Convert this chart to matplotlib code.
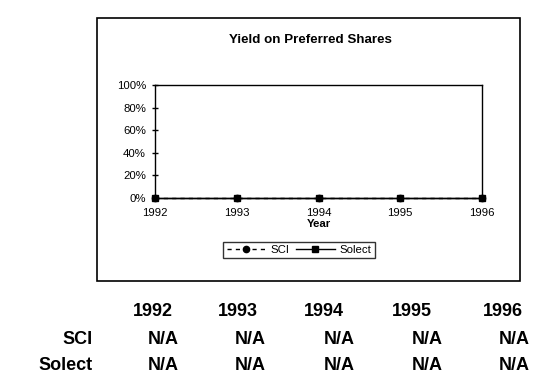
import matplotlib
matplotlib.use("Agg")
import matplotlib.pyplot as plt
from matplotlib.patches import Rectangle
from matplotlib.ticker import PercentFormatter

plt.rcParams['font.family'] = ['Liberation Sans', 'DejaVu Sans']

years = [1992, 1993, 1994, 1995, 1996]
sci = [0, 0, 0, 0, 0]
solect = [0, 0, 0, 0, 0]
y_ticks = [0, 0.2, 0.4, 0.6, 0.8, 1.0]
row_labels = ["SCI", "Solect"]
table_sci = ["N/A", "N/A", "N/A", "N/A", "N/A"]
table_solect = ["N/A", "N/A", "N/A", "N/A", "N/A"]

W, H = 538, 379
fig = plt.figure(figsize=(W / 100, H / 100), dpi=100)

def fx(px):
    return px / W

def fy(py):
    return (H - py) / H

# outer chart box
fig.patches.append(Rectangle((fx(97), fy(281)), fx(520) - fx(97), fy(18) - fy(281),
                             transform=fig.transFigure, fill=False, edgecolor='black', linewidth=1.2))

ax = fig.add_axes([fx(155), fy(198), fx(482) - fx(155), fy(85) - fy(198)])
ax.plot(years, sci, linestyle='--', color='black', marker='o', markersize=4.5,
        linewidth=1.0, label='SCI', clip_on=False, dashes=(3, 3))
ax.plot(years, solect, linestyle='-', color='black', marker='s', markersize=4.5,
        linewidth=1.0, label='Solect', clip_on=False)
ax.set_xlim(1992, 1996)
ax.set_ylim(0, 1)
ax.set_xticks(years)
ax.set_xticklabels([str(y) for y in years])
ax.set_yticks(y_ticks)
ax.yaxis.set_major_formatter(PercentFormatter(1.0, decimals=0))
ax.tick_params(axis='y', direction='inout', length=5, width=1, labelsize=8.2, pad=4)
ax.tick_params(axis='x', direction='inout', length=0, labelsize=8.2, pad=7)
for s in ax.spines.values():
    s.set_linewidth(1.0)
ax.set_xlabel("Year", fontsize=8.2, fontweight='bold', labelpad=1)

fig.text(fx(310), fy(40), "Yield on Preferred Shares", ha='center', va='center',
         fontsize=9.6, fontweight='bold')

leg = fig.legend(loc='center', bbox_to_anchor=(fx(299), fy(250)), ncol=2, fontsize=8.2,
                 frameon=True, fancybox=False, edgecolor='black', handlelength=3.4,
                 columnspacing=0.6, handletextpad=0.4, borderpad=0.3, borderaxespad=0)
leg.get_frame().set_linewidth(1.0)

# data table below
hdr_x = [153, 238, 324, 412, 503]
na_x = [163, 250, 339, 427, 514]
fs = 13
for x, y in zip(hdr_x, years):
    fig.text(fx(x), fy(311), str(y), ha='center', va='center', fontsize=fs, fontweight='bold')
for row_y, label, vals in [(339, row_labels[0], table_sci), (365, row_labels[1], table_solect)]:
    fig.text(fx(93), fy(row_y), label, ha='right', va='center', fontsize=fs, fontweight='bold')
    for x, v in zip(na_x, vals):
        fig.text(fx(x), fy(row_y), v, ha='center', va='center', fontsize=fs, fontweight='bold')

fig.savefig("out.png", dpi=100)
